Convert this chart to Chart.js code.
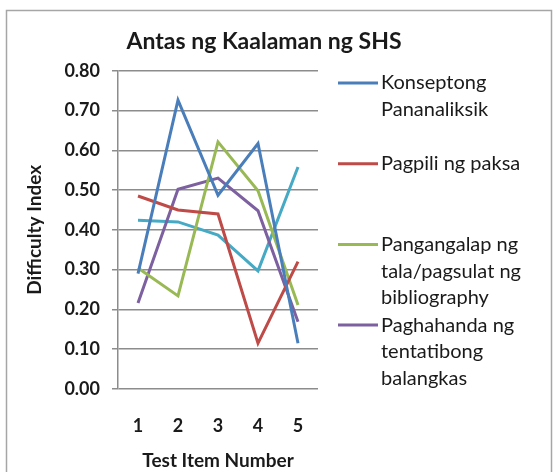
<!DOCTYPE html>
<html>
<head>
<meta charset="utf-8">
<script src="https://cdn.jsdelivr.net/npm/chart.js@4.4.1/dist/chart.umd.min.js"></script>
<style>
  html, body { margin: 0; padding: 0; background: #fff; }
  #wrap { width: 553px; height: 472px; position: relative; }
</style>
</head>
<body>
<div id="wrap"><canvas id="lineChart"></canvas></div>
<script>
var chartTitle = "Antas ng Kaalaman ng SHS";
var testItems = ["1", "2", "3", "4", "5"];
var seriesNames = [
	"Konseptong Pananaliksik",
	"Pagpili ng paksa",
	"Pangangalap ng tala/pagsulat ng bibliography",
	"Paghahanda ng tentatibong balangkas",
	"Serye 5"
];
// legend text wrapped the way the picture wraps it
var legendLines = [
	["Konseptong", "Pananaliksik"],
	["Pagpili ng paksa"],
	["Pangangalap ng", "tala/pagsulat ng", "bibliography"],
	["Paghahanda ng", "tentatibong", "balangkas"]
];
var konseptong = [0.29, 0.726, 0.487, 0.617, 0.115];
var pagpili = [0.485, 0.45, 0.44, 0.115, 0.32];
var pangangalap = [0.304, 0.234, 0.621, 0.498, 0.211];
var paghahanda = [0.216, 0.502, 0.53, 0.448, 0.169];
var serye5 = [0.424, 0.42, 0.387, 0.297, 0.558];
var yTicks = [0, 0.1, 0.2, 0.3, 0.4, 0.5, 0.6, 0.7, 0.8];

var colors = ['#4a7ebb', '#be4b48', '#98b954', '#7d60a0', '#46aac5'];
var FONT = "Lato, 'Open Sans', sans-serif";

var seriesValues = [konseptong, pagpili, pangangalap, paghahanda, serye5];
var datasets = [];
for (var i = 0; i < seriesValues.length; i++) {
	datasets.push({
		label: seriesNames[i],
		data: seriesValues[i],
		borderColor: colors[i],
		backgroundColor: colors[i],
		borderWidth: 3,
		pointRadius: 0,
		tension: 0,
		fill: false
	});
}

var framePlugin = {
	id: 'frame',
	beforeDraw: function(chart) {
		var ctx = chart.ctx;
		ctx.save();
		ctx.fillStyle = '#fff';
		ctx.fillRect(0, 0, chart.width, chart.height);
		ctx.strokeStyle = '#a6a6a6';
		ctx.lineWidth = 1.5;
		ctx.strokeRect(6.5, 10.5, 545, 480);
		// title, centred over the whole frame like the picture
		ctx.font = "bold 23px " + FONT;
		ctx.fillStyle = '#1a1a1a';
		ctx.textAlign = 'center';
		ctx.textBaseline = 'middle';
		ctx.fillText(chartTitle, 264, 42);
		ctx.restore();
	}
};

var legendPlugin = {
	id: 'sideLegend',
	afterDraw: function(chart) {
		var ctx = chart.ctx;
		var x0 = chart.chartArea.right + 20;
		ctx.save();
		ctx.font = "20px " + FONT;
		ctx.textBaseline = 'middle';
		ctx.fillStyle = '#1a1a1a';
		for (var i = 0; i < legendLines.length; i++) {
			var y = 83 + i * 80.7;
			ctx.strokeStyle = chart.data.datasets[i].borderColor;
			ctx.lineWidth = 3;
			ctx.beginPath();
			ctx.moveTo(x0, y);
			ctx.lineTo(x0 + 40, y);
			ctx.stroke();
			for (var j = 0; j < legendLines[i].length; j++) {
				ctx.fillText(legendLines[i][j], x0 + 43, y + j * 26.7);
			}
		}
		ctx.restore();
	}
};

var myChart = new Chart(document.getElementById('lineChart'), {
	type: 'line',
	data: {
		labels: testItems,
		datasets: datasets
	},
	options: {
		responsive: true,
		maintainAspectRatio: false,
		animation: false,
		layout: {
			padding: { top: 70.7, left: 0, right: 235, bottom: 0 }
		},
		plugins: {
			legend: { display: false },
			tooltip: { enabled: false },
			title: { display: false }
		},
		scales: {
			x: {
				offset: true,
				grid: { display: false, drawTicks: false },
				border: { display: false },
				ticks: {
					color: '#1a1a1a',
					padding: 26,
					font: { family: FONT, size: 18, weight: 'bold' }
				},
				title: {
					display: true,
					text: 'Test Item Number',
					color: '#1a1a1a',
					font: { family: FONT, size: 19, weight: 'bold', lineHeight: 1.2 },
					padding: { top: 0, bottom: 0 }
				},
				afterFit: function(scale) { scale.height = 83; }
			},
			y: {
				min: 0,
				max: 0.8,
				afterBuildTicks: function(scale) {
					scale.ticks = yTicks.map(function(v) { return { value: v }; });
				},
				grid: { color: '#8c8c8c', lineWidth: 1.5, tickLength: 6 },
				border: { display: true, color: '#8c8c8c', width: 1.5 },
				ticks: {
					color: '#1a1a1a',
					padding: 12,
					font: { family: FONT, size: 18, weight: 'bold' },
					callback: function(v) { return Number(v).toFixed(2); }
				},
				title: {
					display: true,
					text: 'Difficulty Index',
					color: '#1a1a1a',
					font: { family: FONT, size: 19, weight: 'bold', lineHeight: 1.2 },
					padding: { top: 23, bottom: 0 }
				},
				afterFit: function(scale) { scale.width = 118; }
			}
		}
	},
	plugins: [framePlugin, legendPlugin]
});
</script>
</body>
</html>
